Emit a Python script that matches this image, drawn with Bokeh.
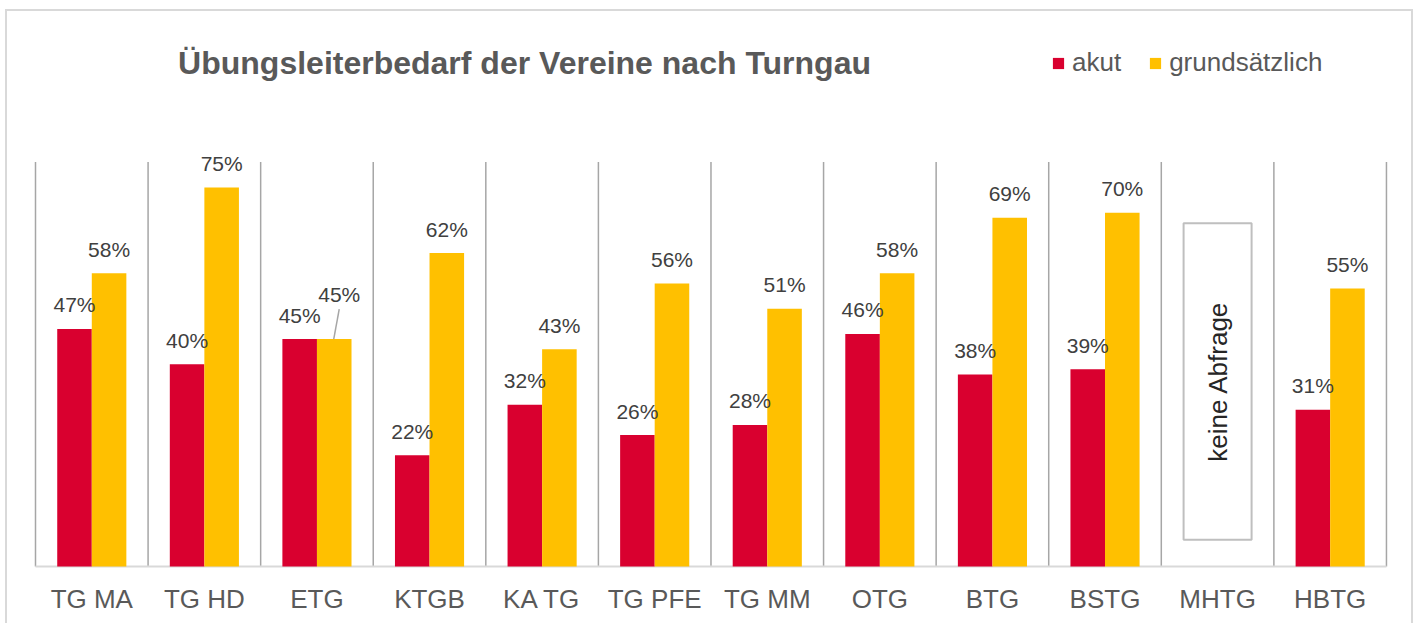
import math
import numpy as np
from bokeh.plotting import figure
from bokeh.models import (ColumnDataSource, Range1d, FixedTicker, Label, LabelSet,
                          Legend, LegendItem)
from bokeh.transform import dodge
from bokeh.core.properties import value
from bokeh.embed import file_html
from bokeh.resources import INLINE

# ---------------- data ----------------
categories = ["TG MA", "TG HD", "ETG", "KTGB", "KA TG", "TG PFE", "TG MM",
              "OTG", "BTG", "BSTG", "MHTG", "HBTG"]
akut = [0.47, 0.40, 0.45, 0.22, 0.32, 0.26, 0.28, 0.46, 0.38, 0.39, None, 0.31]
grundsaetzlich = [0.58, 0.75, 0.45, 0.62, 0.43, 0.56, 0.51, 0.58, 0.69, 0.70, None, 0.55]
series_names = ["akut", "grundsätzlich"]
title_text = "Übungsleiterbedarf der Vereine nach Turngau"
no_data_text = "keine Abfrage"
y_max = 0.8

# ---------------- styles ----------------
RED = "#D9002F"
YELLOW = "#FFC000"
FONT = "Liberation Sans"
GRAY_TEXT = "#595959"
LABEL_TEXT = "#404040"
BAR_W = 0.307
OFF = BAR_W / 2
PX_X = 112.58      # px per category
PX_Y = 505.5       # px per unit (100 %)

n = len(categories)
xc = np.arange(n) + 0.5
a = np.array([np.nan if v is None else v for v in akut], dtype=float)
g = np.array([np.nan if v is None else v for v in grundsaetzlich], dtype=float)

def fmt(v):
    return "" if np.isnan(v) else f"{round(v * 100)}%"

LBL_OFF = 24
same = [(not np.isnan(a[i])) and a[i] == g[i] for i in range(n)]
g_xoff = [5 if s else 0 for s in same]
g_yoff = [45 if s else LBL_OFF for s in same]

src = ColumnDataSource(dict(
    x=xc, akut=a, grund=g,
    akut_lbl=[fmt(v) for v in a], grund_lbl=[fmt(v) for v in g],
    g_xoff=g_xoff, g_yoff=g_yoff,
))

W, H = 1408, 614
ML, MR, MT, MB = 17, 18, 0, 57
frame_w = W - ML - MR
frame_h = H - MT - MB
x0 = -(28 - ML) / PX_X
x1 = x0 + frame_w / PX_X
y0 = -2 / PX_Y
y1 = y0 + frame_h / PX_Y

p = figure(width=W, height=H, x_range=Range1d(x0, x1), y_range=Range1d(y0, y1),
           output_backend="svg", toolbar_location=None,
           min_border_left=ML, min_border_right=MR, min_border_top=MT, min_border_bottom=MB)
p.styles = {"border-top": "2px solid #d9d9d9", "border-left": "2px solid #d9d9d9",
            "border-right": "2px solid #d9d9d9", "margin-left": "5px", "margin-top": "9px"}
p.outline_line_color = None
p.background_fill_color = "white"
p.border_fill_color = "white"

p.yaxis.visible = False
p.ygrid.visible = False
p.xgrid.visible = False

p.xaxis.ticker = FixedTicker(ticks=list(xc))
p.xaxis.major_label_overrides = {float(x): c for x, c in zip(xc, categories)}
p.xaxis.axis_line_color = None
p.xaxis.major_tick_line_color = None
p.xaxis.minor_tick_line_color = None
p.xaxis.major_label_text_font = FONT
p.xaxis.major_label_text_font_size = "26px"
p.xaxis.major_label_text_color = GRAY_TEXT
p.xaxis.major_label_standoff = 9

# category separators and baseline
bounds = list(range(n + 1))
p.segment(x0=bounds, y0=[0] * len(bounds), x1=bounds, y1=[y_max] * len(bounds),
          line_color="#a6a6a6", line_width=1.5)
p.segment(x0=[0], y0=[0], x1=[n], y1=[0], line_color="#d9d9d9", line_width=2)

r1 = p.vbar(x=dodge("x", -OFF, range=p.x_range), top="akut", width=BAR_W, source=src,
            fill_color=RED, line_color=None)
r2 = p.vbar(x=dodge("x", OFF, range=p.x_range), top="grund", width=BAR_W, source=src,
            fill_color=YELLOW, line_color=None)

# leader lines for shifted labels
lx0, ly0, lx1, ly1 = [], [], [], []
for i in range(n):
    if same[i]:
        lx0.append(xc[i] + OFF + 5 / PX_X)
        ly0.append(g[i] + 30 / PX_Y)
        lx1.append(xc[i] + OFF - 0.5 / PX_X)
        ly1.append(g[i])
p.segment(x0=lx0, y0=ly0, x1=lx1, y1=ly1, line_color="#a6a6a6", line_width=1.5)

p.add_layout(LabelSet(x=dodge("x", -OFF, range=p.x_range), y="akut", text="akut_lbl",
                      source=src, y_offset=LBL_OFF, text_align="center", text_baseline="middle",
                      text_font=value(FONT), text_font_size=value("21px"),
                      text_color=LABEL_TEXT))
p.add_layout(LabelSet(x=dodge("x", OFF, range=p.x_range), y="grund", text="grund_lbl",
                      source=src, x_offset="g_xoff", y_offset="g_yoff",
                      text_align="center", text_baseline="middle",
                      text_font=value(FONT), text_font_size=value("21px"),
                      text_color=LABEL_TEXT))

# no-data box
for i in range(n):
    if np.isnan(a[i]) and np.isnan(g[i]):
        p.quad(left=xc[i] - 0.302, right=xc[i] + 0.302, bottom=0.053, top=0.679,
               fill_color="white", line_color="#bfbfbf", line_width=2)
        p.text(x=[xc[i]], y=[0.366], text=[no_data_text], angle=math.pi / 2,
               text_align="center", text_baseline="middle",
               text_font=value(FONT), text_font_size=value("26px"),
               text_color="#262626")

# title
p.add_layout(Label(x=4.344, y=0.997, text=title_text, text_align="center",
                   text_baseline="middle", text_font=FONT, text_font_size="32px",
                   text_font_style="bold", text_color=GRAY_TEXT))

# legend
legend = Legend(items=[LegendItem(label=series_names[0], renderers=[r1]),
                       LegendItem(label=series_names[1], renderers=[r2])],
                orientation="horizontal", location=(1027, 490),
                glyph_width=14, glyph_height=14, label_standoff=7, spacing=27,
                padding=0, margin=0, border_line_color=None, background_fill_alpha=0,
                label_text_font=FONT, label_text_font_size="26px",
                label_text_color=GRAY_TEXT)
p.add_layout(legend, "center")

open("out.html", "w").write(file_html(p, INLINE))
